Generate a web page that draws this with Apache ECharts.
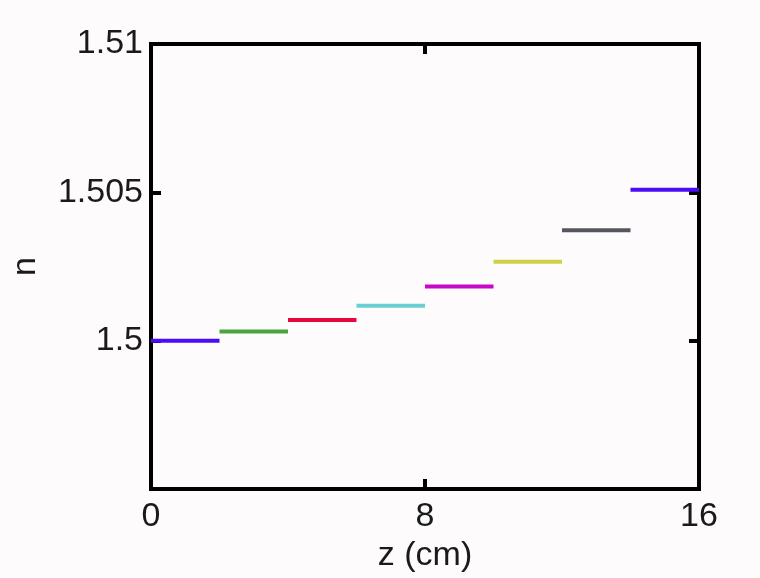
<!DOCTYPE html>
<html>
<head>
<meta charset="utf-8">
<script src="https://cdn.jsdelivr.net/npm/echarts@6/dist/echarts.min.js"></script>
<style>
html,body{margin:0;padding:0;background:#fdfbfc;}
#chart{width:760px;height:578px;}
</style>
</head>
<body>
<div id="chart"></div>
<script>
// Data
var segStart = [0, 2, 4, 6, 8, 10, 12, 14];
var segWidth = 2;
var nValues = [1.5000, 1.50031, 1.5007, 1.50118, 1.50183, 1.50266, 1.50372, 1.50509];
var segColors = ['#4a0cf5', '#4aa63c', '#e6073f', '#6acfd0', '#c808c8', '#cfcf4a', '#55565f', '#4a0cf5'];
var xTicks = [0, 8, 16];
var yTickLabels = ['1.5', '1.505', '1.51'];

var FONT = 'Liberation Sans, Arial, sans-serif';
var chart = echarts.init(document.getElementById('chart'), null, {renderer: 'canvas'});

var series = segStart.map(function (z0, i) {
  return {
    type: 'line',
    xAxisIndex: 0,
    yAxisIndex: 0,
    data: [[z0, nValues[i]], [z0 + segWidth, nValues[i]]],
    symbol: 'none',
    lineStyle: {color: segColors[i], width: 4, cap: 'butt'},
    itemStyle: {color: segColors[i]},
    silent: true,
    animation: false
  };
});

function yFmt(v) {
  var s = String(parseFloat(v.toFixed(4)));
  return yTickLabels.indexOf(s) >= 0 ? s : '';
}
function xFmt(v) {
  var r = Math.round(v);
  return xTicks.indexOf(r) >= 0 ? String(r) : '';
}

var axisLine = {show: true, onZero: false, lineStyle: {color: '#000', width: 4, cap: 'square'}};
var axisTick = {show: true, inside: true, length: 10, lineStyle: {color: '#000', width: 4}};

chart.setOption({
  backgroundColor: '#fdfbfc',
  animation: false,
  grid: {left: 151, right: 61, top: 44, bottom: 86, containLabel: false},
  xAxis: [
    {
      type: 'value', position: 'bottom', min: 0, max: 16, interval: 8,
      axisLine: axisLine, axisTick: axisTick, splitLine: {show: false},
      axisLabel: {formatter: xFmt, fontSize: 34, color: '#1a1a1a', fontFamily: FONT, margin: 11},
      name: 'z (cm)', nameLocation: 'middle', nameGap: 38,
      nameTextStyle: {fontSize: 34, color: '#1a1a1a', fontFamily: FONT}
    },
    {
      type: 'value', position: 'top', min: 0, max: 16, interval: 8,
      axisLine: axisLine, axisTick: axisTick, splitLine: {show: false},
      axisLabel: {show: false}
    }
  ],
  yAxis: [
    {
      type: 'value', position: 'left', min: 1.495, max: 1.51, interval: 0.005,
      axisLine: axisLine, axisTick: axisTick, splitLine: {show: false},
      axisLabel: {formatter: yFmt, fontSize: 34, color: '#1a1a1a', fontFamily: FONT, margin: 8},
      name: 'n', nameLocation: 'middle', nameGap: 108, nameRotate: 90,
      nameTextStyle: {fontSize: 34, color: '#1a1a1a', fontFamily: FONT}
    },
    {
      type: 'value', position: 'right', min: 1.495, max: 1.51, interval: 0.005,
      axisLine: axisLine, axisTick: axisTick, splitLine: {show: false},
      axisLabel: {show: false}
    }
  ],
  series: series
});
</script>
</body>
</html>
